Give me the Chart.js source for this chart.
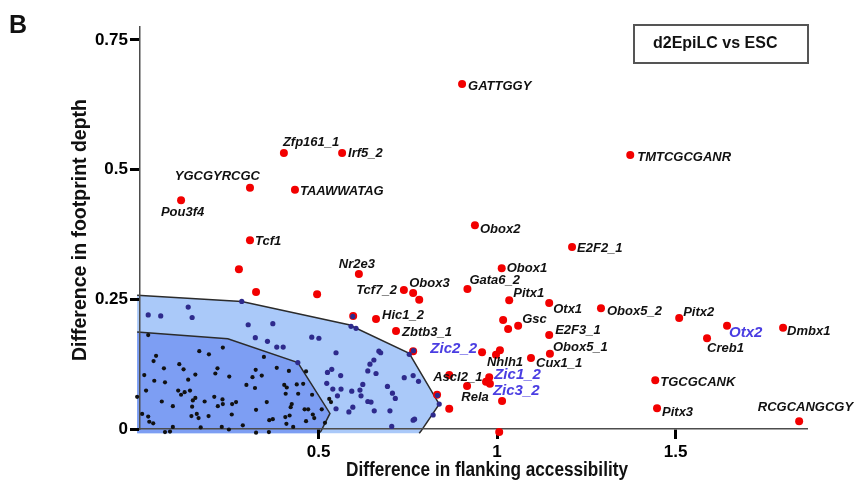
<!DOCTYPE html>
<html>
<head>
<meta charset="utf-8">
<script src="https://cdn.jsdelivr.net/npm/chart.js@4/dist/chart.umd.min.js"></script>
<style>
  html, body { margin: 0; padding: 0; background: #fff; }
</style>
</head>
<body>
<canvas id="footprint" width="854" height="486"></canvas>
<script>
// motifs above the background (red), '' = unlabelled point
const motifNames = ['GATTGGY','TMTCGCGANR','Zfp161_1','Irf5_2','YGCGYRCGC','TAAWWATAG','Pou3f4','Tcf1','Obox2','E2F2_1',
  'Nr2e3','Tcf7_2','Obox3','','Hic1_2','Zbtb3_1','Gata6_2','Obox1','Pitx1','',
  '','Gsc','Zic2_2','','Nhlh1','Cux1_1','Ascl2_1','Zic1_2','','Zic3_2',
  'Rela','','','','','','','','','',
  'Otx1','Obox5_2','E2F3_1','Obox5_1','Pitx2','Otx2','Creb1','Dmbx1','TGCGCANK','Pitx3',
  'RCGCANGCGY'];
const motifX = [0.902,1.373,0.403,0.566,0.308,0.434,0.115,0.308,0.938,1.210,
  0.613,0.739,0.765,0.782,0.661,0.717,0.917,1.013,1.034,1.017,
  1.031,1.059,0.958,1.008,0.997,1.095,0.866,0.978,0.969,0.980,
  0.916,1.014,0.866,1.006,0.597,0.765,0.832,0.277,0.325,0.496,
  1.146,1.291,1.146,1.148,1.510,1.644,1.588,1.801,1.443,1.448,
  1.846];
const motifY = [0.665,0.528,0.532,0.532,0.465,0.461,0.441,0.364,0.393,0.351,
  0.299,0.268,0.262,0.249,0.212,0.189,0.270,0.310,0.248,0.210,
  0.193,0.199,0.148,0.152,0.143,0.137,0.104,0.100,0.091,0.087,
  0.083,0.054,0.039,-0.006,0.218,0.150,0.066,0.308,0.264,0.260,
  0.243,0.233,0.181,0.145,0.214,0.199,0.175,0.195,0.094,0.040,
  0.015];
const highlighted = ['Zic2_2','Zic1_2','Zic3_2','Otx2'];

// background motifs: inner region (black) and outer region (navy)
const innerX = [0.023,0.166,0.193,0.232,0.347,0.045,0.038,0.110,0.067,0.122,
  0.012,0.155,0.217,0.211,0.250,0.298,0.315,0.324,0.341,0.322,
  0.383,0.404,0.411,0.439,0.457,0.465,0.040,0.070,0.135,0.107,
  0.115,0.125,0.140,0.017,0.061,0.092,0.148,0.146,0.155,0.181,
  0.208,0.231,0.218,0.232,0.258,0.269,0.325,0.355,0.425,0.408,
  0.482,0.461,0.471,0.509,0.530,0.535,0.006,0.023,0.037,0.026,
  0.092,0.144,0.159,0.164,0.192,0.170,0.229,0.249,0.288,0.362,
  0.372,0.407,0.410,0.429,0.484,0.488,0.070,0.084,0.325,0.361,
  -0.008,0.257,0.417,0.419,0.422,0.443,0.465,0.518];
const innerY = [0.181,0.150,0.144,0.157,0.139,0.141,0.131,0.125,0.117,0.115,
  0.104,0.105,0.117,0.107,0.101,0.085,0.100,0.114,0.103,0.079,
  0.118,0.085,0.080,0.086,0.087,0.111,0.093,0.090,0.095,0.074,
  0.066,0.071,0.074,0.074,0.053,0.044,0.055,0.043,0.060,0.053,
  0.062,0.057,0.044,0.048,0.048,0.052,0.037,0.052,0.048,0.068,
  0.066,0.038,0.038,0.038,0.058,0.052,0.029,0.024,0.011,0.014,
  0.004,0.025,0.029,0.021,0.025,0.003,0.004,-0.001,0.007,0.017,
  0.019,0.023,0.010,0.004,0.028,0.021,-0.006,-0.005,-0.007,-0.006,
  0.062,0.028,0.112,0.026,0.042,0.068,0.015,0.012];
const outerX = [0.023,0.058,0.135,0.146,0.285,0.303,0.372,0.323,0.357,0.383,
  0.401,0.481,0.501,0.549,0.591,0.605,0.537,0.525,0.562,0.638,
  0.523,0.540,0.563,0.616,0.553,0.619,0.638,0.549,0.596,0.585,
  0.442,0.669,0.674,0.655,0.644,0.661,0.624,0.593,0.647,0.693,
  0.707,0.715,0.740,0.765,0.780,0.656,0.700,0.765,0.769,0.705,
  0.833,0.838,0.821,0.596,0.766,0.754];
const outerY = [0.220,0.218,0.235,0.215,0.246,0.201,0.203,0.176,0.169,0.158,
  0.158,0.177,0.175,0.147,0.198,0.194,0.115,0.109,0.103,0.112,
  0.088,0.077,0.077,0.075,0.064,0.064,0.053,0.039,0.042,0.033,
  0.128,0.150,0.147,0.133,0.125,0.107,0.086,0.073,0.052,0.082,
  0.069,0.059,0.099,0.103,0.092,0.035,0.035,0.017,0.019,0.005,
  0.065,0.048,0.027,0.217,0.151,0.144];

// hull outlines of the two background regions
const outerHullX = [-0.008,0.285,0.585,0.754,0.838,0.787,0.782,-0.008];
const outerHullY = [0.258,0.246,0.201,0.146,0.048,-0.004,-0.008,-0.008];
const innerHullX = [-0.008,0.246,0.442,0.532,0.507,0.501,-0.008];
const innerHullY = [0.187,0.174,0.128,0.030,-0.004,-0.008,-0.008];

const xTickValues = [0.5, 1, 1.5];
const xTickLabels = ['0.5', '1', '1.5'];
const yTickValues = [0, 0.25, 0.5, 0.75];
const yTickLabels = ['0', '0.25', '0.5', '0.75'];

// label placement: [dx, dy, align] in px from the point
const labelPlace = {
  GATTGGY: [6, 2, 'left'], TMTCGCGANR: [7, 2, 'left'], Zfp161_1: [-1, -11, 'left'], Irf5_2: [6, 0, 'left'],
  YGCGYRCGC: [10, -11, 'right'], TAAWWATAG: [5, 2, 'left'], Pou3f4: [1.5, 12, 'center'], Tcf1: [5, 1, 'left'],
  Obox2: [5, 4, 'left'], E2F2_1: [5, 1, 'left'], Nr2e3: [16, -9, 'right'], Tcf7_2: [-7, 0, 'right'],
  Obox3: [-4, -10, 'left'], Hic1_2: [6, -4, 'left'], Zbtb3_1: [6, 1, 'left'], Gata6_2: [2, -9, 'left'],
  Obox1: [5, 0, 'left'], Pitx1: [4, -7, 'left'], Gsc: [4, -6, 'left'], Zic2_2: [-5, -3, 'right'],
  Nhlh1: [9, 8, 'center'], Cux1_1: [5, 5, 'left'], Ascl2_1: [-16, 2, 'left'], Zic1_2: [5, -2, 'left'],
  Zic3_2: [3, 7, 'left'], Rela: [8, 11, 'center'], Otx1: [4, 6, 'left'], Obox5_2: [6, 3, 'left'],
  E2F3_1: [6, -5, 'left'], Obox5_1: [3, -6, 'left'], Pitx2: [4, -6, 'left'], Otx2: [2, 7, 'left'],
  Creb1: [0, 10, 'left'], Dmbx1: [4, 4, 'left'], TGCGCANK: [5, 2, 'left'], Pitx3: [5, 4, 'left'],
  RCGCANGCGY: [54, -14, 'right']
};

const FONT = "'Liberation Sans', Arial, Helvetica, sans-serif";
const toPoints = (xs, ys) => xs.map((v, i) => ({x: v, y: ys[i]}));

const hullPlugin = {
  id: 'hulls',
  beforeDraw(chart) {
    const {ctx, scales: {x, y}} = chart;
    const hull = (hx, hy, fill) => {
      const pts = hx.map((v, i) => [x.getPixelForValue(v), y.getPixelForValue(hy[i])]);
      ctx.save();
      ctx.beginPath();
      pts.forEach((p, i) => i ? ctx.lineTo(p[0], p[1]) : ctx.moveTo(p[0], p[1]));
      ctx.closePath();
      ctx.fillStyle = fill;
      ctx.fill();
      ctx.beginPath();
      pts.slice(0, -1).forEach((p, i) => i ? ctx.lineTo(p[0], p[1]) : ctx.moveTo(p[0], p[1]));
      ctx.strokeStyle = '#2b2b2b';
      ctx.lineWidth = 1.5;
      ctx.stroke();
      ctx.restore();
    };
    hull(outerHullX, outerHullY, '#aac9f9');
    hull(innerHullX, innerHullY, '#7d9ef3');
  }
};

const textPlugin = {
  id: 'texts',
  afterDraw(chart) {
    const ctx = chart.ctx;
    const meta = chart.getDatasetMeta(2);
    ctx.save();
    ctx.textBaseline = 'middle';
    motifNames.forEach((name, i) => {
      if (!name) return;
      const pt = meta.data[i];
      const [dx, dy, align] = labelPlace[name];
      const hi = highlighted.includes(name);
      ctx.font = hi ? 'italic bold 15px ' + FONT : 'italic bold 13px ' + FONT;
      ctx.fillStyle = hi ? '#4a3de2' : '#111';
      ctx.textAlign = align;
      ctx.fillText(name, pt.x + dx, pt.y + dy);
    });

    // axis titles
    ctx.fillStyle = '#111';
    ctx.textAlign = 'center';
    ctx.font = 'bold 20px ' + FONT;
    ctx.fillText('Difference in flanking accessibility', 487, 470, 282);
    ctx.save();
    ctx.translate(80, 230);
    ctx.rotate(-Math.PI / 2);
    ctx.fillText('Difference in footprint depth', 0, 0, 262);
    ctx.restore();

    // panel letter
    ctx.textAlign = 'left';
    ctx.textBaseline = 'alphabetic';
    ctx.font = 'bold 25px ' + FONT;
    ctx.fillText('B', 9, 33);

    // comparison box
    ctx.strokeStyle = '#555';
    ctx.lineWidth = 2;
    ctx.strokeRect(634, 25, 174, 38);
    ctx.textBaseline = 'middle';
    ctx.font = 'bold 16px ' + FONT;
    ctx.fillText('d2EpiLC vs ESC', 653, 44);
    ctx.restore();
  }
};

const tickFont = {family: FONT, size: 17, weight: 'bold'};

new Chart(document.getElementById('footprint'), {
  type: 'scatter',
  data: {
    datasets: [
      {data: toPoints(innerX, innerY), backgroundColor: '#111', pointRadius: 2.1, borderWidth: 0, clip: false, order: 4},
      {data: toPoints(outerX, outerY), backgroundColor: '#2e2a8c', pointRadius: 2.6, borderWidth: 0, clip: false, order: 1},
      {data: toPoints(motifX, motifY), backgroundColor: '#f20000', pointRadius: 4, borderWidth: 0, clip: false, order: 2}
    ]
  },
  options: {
    responsive: false,
    animation: false,
    devicePixelRatio: 1,
    layout: {padding: {top: 27, right: 47, left: 0, bottom: 0}},
    plugins: {legend: {display: false}, tooltip: {enabled: false}},
    scales: {
      x: {
        type: 'linear', min: 0, max: 1.868,
        afterBuildTicks: s => { s.ticks = xTickValues.map(v => ({value: v})); },
        afterFit: s => { s.height = 57; },
        ticks: {font: tickFont, color: '#000', padding: 3, callback: (v, i) => xTickLabels[i]},
        grid: {drawOnChartArea: false, tickLength: 10, tickWidth: 3, tickColor: '#000'},
        border: {color: '#4d4d4d', width: 1.5}
      },
      y: {
        type: 'linear', min: 0, max: 0.775,
        afterBuildTicks: s => { s.ticks = yTickValues.map(v => ({value: v})); },
        afterFit: s => { s.width = 140; },
        ticks: {font: tickFont, color: '#000', padding: 2, callback: (v, i) => yTickLabels[i]},
        grid: {drawOnChartArea: false, tickLength: 10, tickWidth: 3, tickColor: '#000'},
        border: {color: '#4d4d4d', width: 1.5}
      }
    }
  },
  plugins: [hullPlugin, textPlugin]
});
</script>
</body>
</html>
